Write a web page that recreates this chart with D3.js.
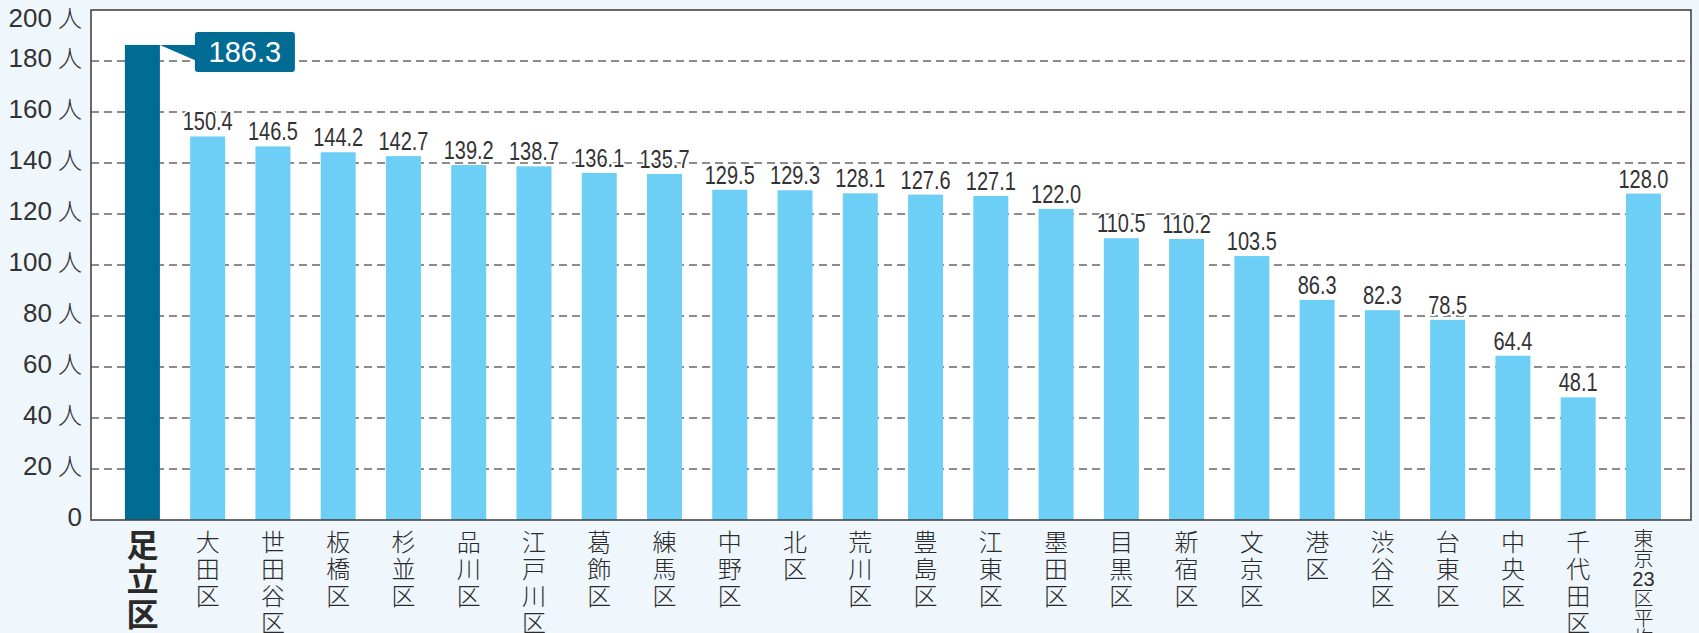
<!DOCTYPE html>
<html>
<head>
<meta charset="utf-8">
<script src="https://cdn.jsdelivr.net/npm/d3@7"></script>
<style>
  html, body { margin: 0; padding: 0; background: #eff7fd; }
  svg { display: block; }
</style>
</head>
<body>
<svg id="chart" width="1699" height="633"></svg>
<script>
const categories = ["足立区","大田区","世田谷区","板橋区","杉並区","品川区","江戸川区","葛飾区","練馬区","中野区","北区","荒川区","豊島区","江東区","墨田区","目黒区","新宿区","文京区","港区","渋谷区","台東区","中央区","千代田区","東京23区平均"];
const values = [186.3,150.4,146.5,144.2,142.7,139.2,138.7,136.1,135.7,129.5,129.3,128.1,127.6,127.1,122.0,110.5,110.2,103.5,86.3,82.3,78.5,64.4,48.1,128.0];
const yTicks = [0,20,40,60,80,100,120,140,160,180,200];
const unit = "人";
const highlight = "足立区";

const svg = d3.select("#chart");
const W = 1699, H = 633;
const plot = {left: 91, right: 1691, top: 10, bottom: 520};

svg.append("rect").attr("width", W).attr("height", H).attr("fill", "#eff7fd");

const x = d3.scaleBand().domain(categories).range([plot.left, plot.right])
  .paddingInner(0.4637).paddingOuter(0.49).align(0.53);
const y = d3.scaleLinear().domain([0, 200]).range([plot.bottom, plot.top]);

// plot background
svg.append("rect").attr("x", plot.left).attr("y", plot.top)
  .attr("width", plot.right - plot.left).attr("height", plot.bottom - plot.top)
  .attr("fill", "#ffffff");

// gridlines
svg.append("g").selectAll("line").data(yTicks.filter(t => t > 0 && t < 200)).join("line")
  .attr("x1", plot.left).attr("x2", plot.right)
  .attr("y1", d => y(d)).attr("y2", d => y(d))
  .attr("stroke", "#8c8c8c").attr("stroke-width", 2)
  .attr("stroke-dasharray", "8,5");

// bars
svg.append("g").selectAll("rect").data(categories).join("rect")
  .attr("x", d => x(d)).attr("width", x.bandwidth())
  .attr("y", (d, i) => y(values[i]))
  .attr("height", (d, i) => y(0) - y(values[i]))
  .attr("fill", d => d === highlight ? "#006b93" : "#6dcff5");

// value labels (except highlight) - horizontally condensed
svg.append("g").selectAll("text").data(categories).join("text")
  .filter(d => d !== highlight)
  .attr("transform", d => `translate(${x(d) + x.bandwidth() / 2},${y(values[categories.indexOf(d)]) - 6}) scale(0.8,1)`)
  .attr("text-anchor", "middle")
  .attr("font-family", "'Liberation Sans',sans-serif")
  .attr("font-size", 25)
  .attr("fill", "#333")
  .attr("stroke", "#ffffff").attr("stroke-width", 4)
  .attr("paint-order", "stroke")
  .text(d => values[categories.indexOf(d)].toFixed(1));

// frame
svg.append("rect").attr("x", plot.left).attr("y", plot.top)
  .attr("width", plot.right - plot.left).attr("height", plot.bottom - plot.top)
  .attr("fill", "none").attr("stroke", "#444").attr("stroke-width", 1.6);

// callout for highlight
const hi = categories.indexOf(highlight);
const bx = x(highlight) + x.bandwidth();
const by = y(values[hi]);
const boxX = bx + 35, boxY = by - 13, boxW = 100, boxH = 40;
svg.append("path")
  .attr("d", `M${bx},${by} L${boxX + 2},${by} L${boxX + 2},${by + 16} Z`)
  .attr("fill", "#006b93");
svg.append("rect").attr("x", boxX).attr("y", boxY).attr("width", boxW).attr("height", boxH)
  .attr("rx", 3).attr("fill", "#006b93");
svg.append("text").attr("x", boxX + boxW / 2).attr("y", boxY + boxH / 2 + 10)
  .attr("text-anchor", "middle")
  .attr("font-family", "'Liberation Sans',sans-serif").attr("font-size", 29)
  .attr("fill", "#ffffff").text(values[hi].toFixed(1));

// y tick labels
const yl = svg.append("g").selectAll("text").data(yTicks).join("text")
  .attr("x", 82)
  .attr("y", d => Math.max(y(d), 21))
  .attr("dy", "0.36em")
  .attr("text-anchor", "end")
  .attr("fill", "#333");
yl.append("tspan")
  .attr("font-family", "'Liberation Sans',sans-serif").attr("font-size", 26)
  .text(d => d);
yl.filter(d => d > 0).append("tspan")
  .attr("dx", 6)
  .attr("font-family", "'Noto Sans CJK JP',sans-serif").attr("font-size", 24)
  .attr("font-weight", 300)
  .text(unit);

// x category labels (vertical, stacked characters in one text element each)
function splitLabel(s) {
  const out = [];
  const re = /[0-9]+|./gu;
  let m;
  while ((m = re.exec(s)) !== null) out.push(m[0]);
  return out;
}
const xl = svg.append("g");
categories.forEach((c) => {
  const cx = x(c) + x.bandwidth() / 2;
  const parts = splitLabel(c);
  let size = 24, stride = 27, start = 542, weight = 300;
  if (c === highlight) { size = 32; stride = 34.5; start = 545; weight = 700; }
  else if (parts.length > 5) { size = 20; stride = 20, start = 539; }
  const t = xl.append("text")
    .attr("text-anchor", "middle")
    .attr("font-family", "'Noto Sans CJK JP',sans-serif")
    .attr("font-size", size)
    .attr("font-weight", weight)
    .attr("fill", "#2a2a2a");
  parts.forEach((p, k) => {
    t.append("tspan")
      .attr("x", cx).attr("y", start + k * stride + size * 0.36)
      .attr("font-family", /[0-9]/.test(p) ? "'Liberation Sans',sans-serif" : null)
      .text(p);
  });
});
</script>
</body>
</html>
